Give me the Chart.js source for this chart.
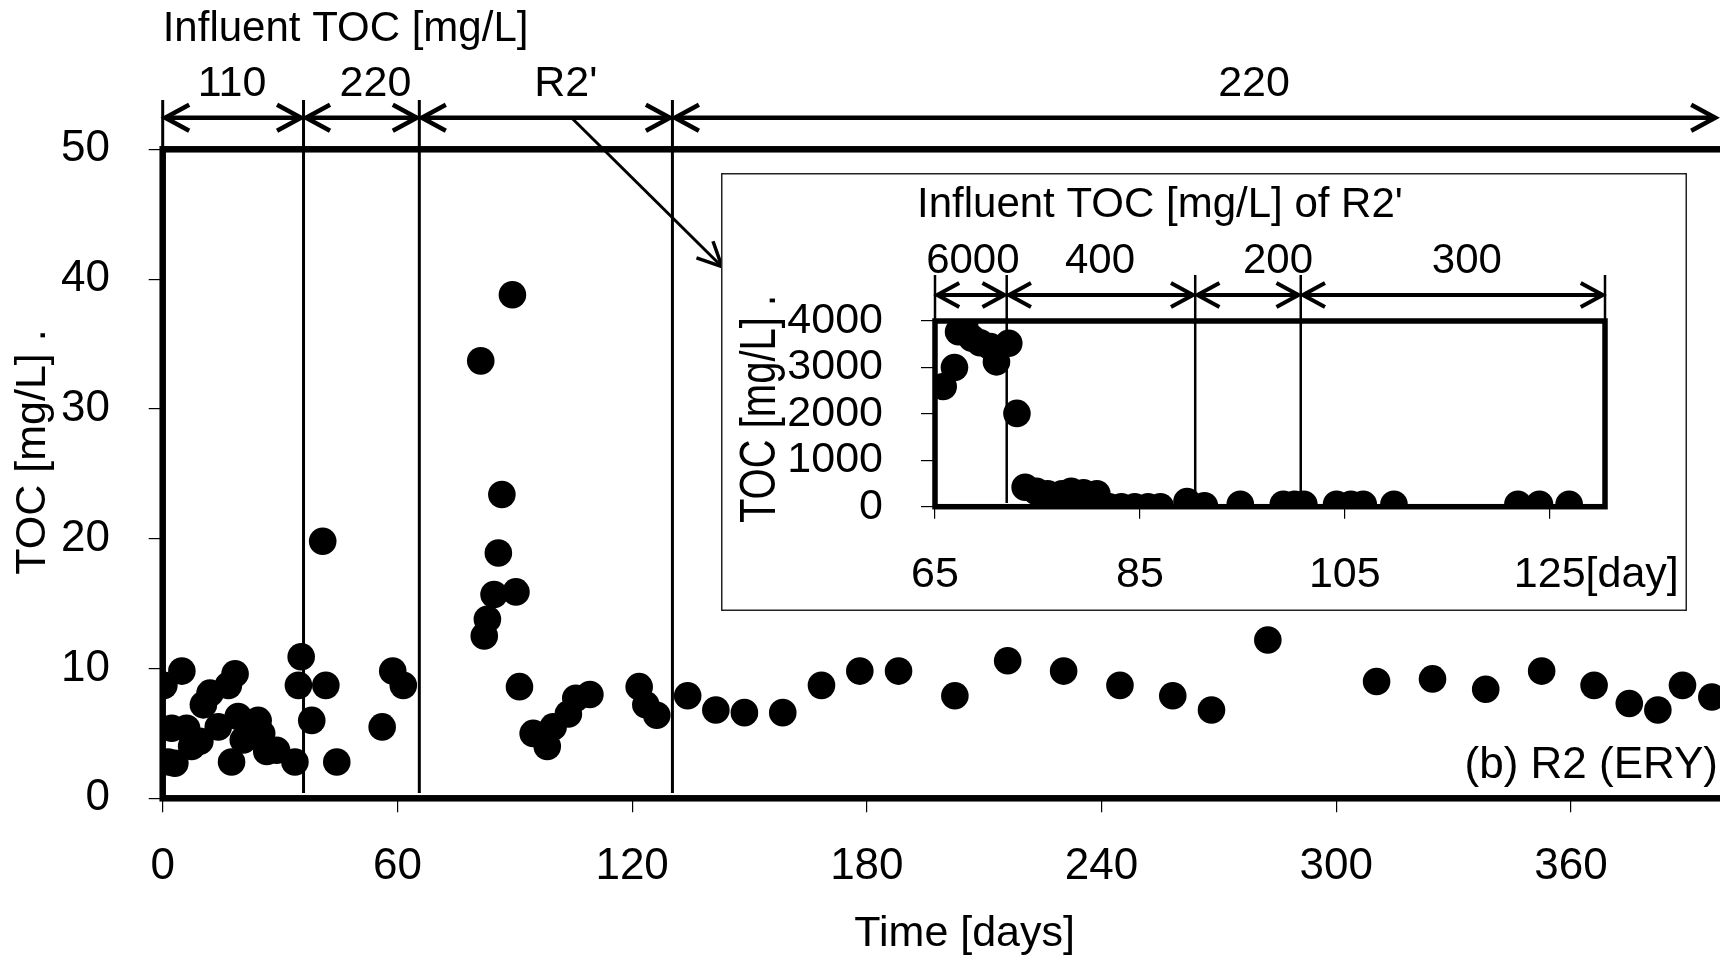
<!DOCTYPE html>
<html>
<head>
<meta charset="utf-8">
<title>TOC R2 (ERY)</title>
<script src="https://cdn.jsdelivr.net/npm/chart.js@4.4.1/dist/chart.umd.min.js"></script>
<style>
  html, body { margin: 0; padding: 0; background: #fff; overflow: hidden; }
  #wrap { position: relative; width: 1720px; height: 955px; overflow: hidden; }
  #main { position: absolute; left: 0; top: 0; }
  #inset { position: absolute; left: 721px; top: 173px; }
</style>
</head>
<body>
<div id="wrap">
  <canvas id="main" width="1800" height="955"></canvas>
  <canvas id="inset" width="966" height="438"></canvas>
</div>
<script>
const FONT = '"Liberation Sans", Arial, Helvetica, sans-serif';

// effluent TOC of R2 [mg/L] vs. time [days]
const days = [0.3, 1.4, 2.3, 3.1, 4.9, 6.1, 7.4, 9.5, 10.4, 12.1, 14.2, 16.8, 17.6, 18.5, 19.3, 20.6,
  24.4, 25.3, 26.6, 29.1, 33.8, 34.7, 35.4, 38.1, 40.9, 41.7, 44.5, 56.1, 58.8, 61.5,
  81.3, 82.2, 83.0, 84.7, 85.8, 86.7, 89.4, 90.3, 91.2, 94.7, 98.3, 99.8, 103.7, 105.6, 109.2,
  121.8, 123.5, 126.3, 134.2, 141.4, 148.7, 158.5, 168.4, 178.2, 188.1, 202.5, 216.0, 230.3,
  244.7, 258.2, 268.1, 282.5, 310.3, 324.6, 338.2, 352.5, 365.9, 374.9, 382.2, 388.5, 396.0];
const toc = [8.7, 2.8, 5.4, 2.7, 9.8, 5.4, 4.0, 4.4, 7.2, 8.1, 5.5, 8.7, 2.8, 9.6, 6.3, 4.5,
  6.0, 5.0, 3.6, 3.7, 2.8, 8.7, 10.9, 6.0, 19.8, 8.7, 2.8, 5.5, 9.8, 8.7,
  33.7, 12.5, 13.8, 15.7, 18.9, 23.4, 38.8, 15.9, 8.6, 5.0, 4.0, 5.5, 6.5, 7.7, 8.0,
  8.6, 7.2, 6.4, 7.9, 6.8, 6.6, 6.6, 8.7, 9.8, 9.8, 7.9, 10.6, 9.8,
  8.7, 7.9, 6.8, 12.2, 9.0, 9.2, 8.4, 9.8, 8.7, 7.3, 6.8, 8.7, 7.8];

// R2' (inset) TOC [mg/L] vs. day
const insetDays = [65.8, 66.9, 67.3, 67.9, 68.6, 69.4, 70.4, 71.0, 72.2, 73.0,
  73.8, 74.9, 76.0, 77.4, 78.3, 79.5, 80.8, 82.0, 83.2, 84.5, 85.8, 87.0,
  89.6, 91.3, 94.8, 99.0, 100.1, 101.0, 104.2, 105.6, 106.8, 109.8, 121.9, 124.0, 126.9];
const insetToc = [2590, 3000, 3770, 3880, 3630, 3530, 3450, 3120, 3520, 2010,
  420, 330, 280, 280, 330, 300, 280, 0, 0, 0, 0, 0,
  110, 20, 50, 50, 50, 50, 50, 50, 50, 50, 50, 50, 50];

// influent phases
const phaseDays = [0, 36, 65.6, 130.3, 397.5];
const phaseLabels = ['110', '220', "R2'", '220'];
const insetPhaseDays = [65, 72, 90.4, 100.7, 130.4];
const insetPhaseLabels = ['6000', '400', '200', '300'];

// axis ticks
const xTicks = [0, 60, 120, 180, 240, 300, 360];
const insetXTicks = [65, 85, 105, 125];

function head(ctx, x, y, dir, len, half) {
  ctx.beginPath();
  ctx.moveTo(x - dir * len, y - half);
  ctx.lineTo(x, y);
  ctx.lineTo(x - dir * len, y + half);
  ctx.stroke();
}

// boundary lines, double arrows and labels above a plot
function drawPhases(chart, o) {
  const { ctx, chartArea: ca } = chart;
  const xs = chart.scales.x;
  const px = o.days.map(d => xs.getPixelForValue(d));
  ctx.save();
  ctx.strokeStyle = '#000';
  ctx.fillStyle = '#000';
  ctx.lineCap = 'butt';
  ctx.lineJoin = 'miter';
  ctx.lineWidth = o.lineW;
  px.forEach((x, i) => {
    const last = i === px.length - 1;
    if (last && !o.closeEnd) return;
    const inner = i > 0 && !last;
    ctx.beginPath();
    ctx.moveTo(x, o.lineTop);
    ctx.lineTo(x, inner ? o.lineBottom : ca.top);
    ctx.stroke();
  });
  ctx.lineWidth = o.arrowW;
  for (let i = 0; i < px.length - 1; i++) {
    const a = px[i] + o.lineW / 2 + 1, b = px[i + 1] - o.lineW / 2 - 1;
    ctx.beginPath();
    ctx.moveTo(a, o.arrowY);
    ctx.lineTo(b, o.arrowY);
    ctx.stroke();
    head(ctx, a, o.arrowY, -1, o.headLen, o.headHalf);
    head(ctx, b, o.arrowY, 1, o.headLen, o.headHalf);
  }
  ctx.font = o.fontSize + 'px ' + FONT;
  ctx.textAlign = 'center';
  ctx.textBaseline = 'middle';
  o.labels.forEach((t, i) => {
    ctx.fillText(t, (px[i] + px[i + 1]) / 2 + o.shifts[i], o.labelY);
  });
  ctx.restore();
}

// rotated axis title; stretch = along text, widen = across text
function vText(ctx, text, x, y, size, stretch, widen) {
  ctx.save();
  ctx.translate(x, y);
  ctx.rotate(-Math.PI / 2);
  ctx.scale(stretch, widen);
  ctx.font = size + 'px ' + FONT;
  ctx.textAlign = 'center';
  ctx.textBaseline = 'alphabetic';
  ctx.fillText(text, 0, 0);
  ctx.restore();
}

const mainDecor = {
  id: 'mainDecor',
  afterDraw(chart) {
    const { ctx, chartArea: ca } = chart;
    const xs = chart.scales.x;
    ctx.save();
    ctx.strokeStyle = '#000';
    ctx.fillStyle = '#000';
    ctx.lineWidth = 6.5;
    ctx.strokeRect(ca.left, ca.top, ca.right - ca.left, ca.bottom - ca.top);

    drawPhases(chart, {
      days: phaseDays, labels: phaseLabels, shifts: [-1, 14, 20, 59],
      lineTop: 100, lineBottom: 793, arrowY: 117.7, labelY: 84.5, fontSize: 43,
      lineW: 3, arrowW: 4.5, headLen: 24, headHalf: 13, closeEnd: false
    });

    ctx.textBaseline = 'middle';
    ctx.font = '42px ' + FONT;
    ctx.textAlign = 'left';
    ctx.fillText('Influent TOC [mg/L]', ca.left, 29);
    ctx.font = '44px ' + FONT;
    ctx.textAlign = 'right';
    ctx.fillText('(b) R2 (ERY)', 1718, 766);
    ctx.font = '43px ' + FONT;
    ctx.textAlign = 'center';
    ctx.fillText('Time [days]', (ca.left + ca.right) / 2, 934);
    vText(ctx, 'TOC [mg/L] .', 45, 452, 43, 1, 1);

    // leader from the R2' period to the inset
    const x0 = xs.getPixelForValue(104.5), y0 = 117.7;
    const x1 = 722, y1 = 266.7;
    ctx.lineWidth = 3;
    ctx.beginPath();
    ctx.moveTo(x0, y0);
    ctx.lineTo(x1, y1);
    ctx.stroke();
    const ang = Math.atan2(y1 - y0, x1 - x0);
    const L = 27, spread = 0.45;
    ctx.lineWidth = 3.5;
    ctx.beginPath();
    ctx.moveTo(x1 - L * Math.cos(ang - spread), y1 - L * Math.sin(ang - spread));
    ctx.lineTo(x1, y1);
    ctx.lineTo(x1 - L * Math.cos(ang + spread), y1 - L * Math.sin(ang + spread));
    ctx.stroke();
    ctx.restore();
  }
};

const insetDecor = {
  id: 'insetDecor',
  beforeDraw(chart) {
    const { ctx, width, height } = chart;
    ctx.save();
    ctx.fillStyle = '#fff';
    ctx.fillRect(0, 0, width, height);
    ctx.restore();
  },
  afterDraw(chart) {
    const { ctx, chartArea: ca, width, height } = chart;
    const xs = chart.scales.x;
    ctx.save();
    ctx.strokeStyle = '#222';
    ctx.lineWidth = 1.5;
    ctx.strokeRect(0.75, 0.75, width - 1.5, height - 1.5);
    ctx.strokeStyle = '#000';
    ctx.lineWidth = 5.5;
    ctx.strokeRect(ca.left, ca.top, ca.right - ca.left, ca.bottom - ca.top);

    drawPhases(chart, {
      days: insetPhaseDays, labels: insetPhaseLabels, shifts: [2, -1, 30, 14],
      lineTop: 102, lineBottom: 330, arrowY: 122, labelY: 88.5, fontSize: 42,
      lineW: 2.5, arrowW: 4, headLen: 22, headHalf: 12, closeEnd: true
    });

    ctx.fillStyle = '#000';
    ctx.font = '42px ' + FONT;
    ctx.textAlign = 'left';
    ctx.textBaseline = 'middle';
    ctx.fillText("Influent TOC [mg/L] of R2'", 196, 32);
    vText(ctx, 'TOC [mg/L] .', 54, 236, 40, 1, 1.25);

    // unit after the last day tick
    const items = xs.getLabelItems ? xs.getLabelItems() : [];
    const it = items.find(t => String(t.label) === '125');
    if (it) {
      const [tx, ty] = it.options.translation;
      ctx.font = it.font.string;
      ctx.textBaseline = it.options.textBaseline;
      ctx.fillText('[day]', tx + ctx.measureText('125').width / 2, ty + it.textOffset);
    }
    ctx.restore();
  }
};

const tickFont = { family: FONT, size: 44 };
const insetTickFont = { family: FONT, size: 43 };

new Chart(document.getElementById('main'), {
  type: 'scatter',
  data: {
    datasets: [{
      data: days.map((d, i) => ({ x: d, y: toc[i] })),
      pointRadius: 13.8,
      pointHoverRadius: 13.8,
      pointBackgroundColor: '#000',
      pointBorderWidth: 0
    }]
  },
  options: {
    responsive: false,
    animation: false,
    devicePixelRatio: 1,
    events: [],
    layout: { padding: { left: 0, top: 149.3, right: 33.4, bottom: 0 } },
    plugins: { legend: { display: false }, tooltip: { enabled: false } },
    scales: {
      x: {
        type: 'linear', min: 0, max: 410,
        afterBuildTicks: s => { s.ticks = xTicks.map(v => ({ value: v })); },
        afterFit: s => { s.height = 156.7; },
        ticks: { font: tickFont, color: '#000', padding: 28.3, maxRotation: 0, autoSkip: false },
        grid: { drawOnChartArea: false, drawTicks: true, tickLength: 14, color: '#000', lineWidth: 1.2 },
        border: { display: false }
      },
      y: {
        min: 0, max: 50,
        afterFit: s => { s.width = 162.7; },
        ticks: { stepSize: 10, font: tickFont, color: '#000', padding: 38.7, autoSkip: false },
        grid: { drawOnChartArea: false, drawTicks: true, tickLength: 14, color: '#000', lineWidth: 1.2 },
        border: { display: false }
      }
    }
  },
  plugins: [mainDecor]
});

new Chart(document.getElementById('inset'), {
  type: 'scatter',
  data: {
    datasets: [{
      data: insetDays.map((d, i) => ({ x: d, y: insetToc[i] })),
      pointRadius: 13.8,
      pointHoverRadius: 13.8,
      pointBackgroundColor: '#000',
      pointBorderWidth: 0
    }]
  },
  options: {
    responsive: false,
    animation: false,
    devicePixelRatio: 1,
    events: [],
    layout: { padding: { left: 0, top: 148, right: 82, bottom: 0 } },
    plugins: { legend: { display: false }, tooltip: { enabled: false } },
    scales: {
      x: {
        type: 'linear', min: 65, max: 130.4,
        afterBuildTicks: s => { s.ticks = insetXTicks.map(v => ({ value: v })); },
        afterFit: s => { s.height = 104.3; },
        ticks: { font: insetTickFont, color: '#000', padding: 31, maxRotation: 0, autoSkip: false,
          callback: v => String(v) },
        grid: { drawOnChartArea: false, drawTicks: true, tickLength: 12, color: '#000', lineWidth: 1.2 },
        border: { display: false }
      },
      y: {
        min: 0, max: 4000,
        afterFit: s => { s.width = 214; },
        ticks: { stepSize: 1000, font: insetTickFont, color: '#000', padding: 38, autoSkip: false,
          callback: v => String(v) },
        grid: { drawOnChartArea: false, drawTicks: true, tickLength: 14, color: '#000', lineWidth: 1.2 },
        border: { display: false }
      }
    }
  },
  plugins: [insetDecor]
});
</script>
</body>
</html>
